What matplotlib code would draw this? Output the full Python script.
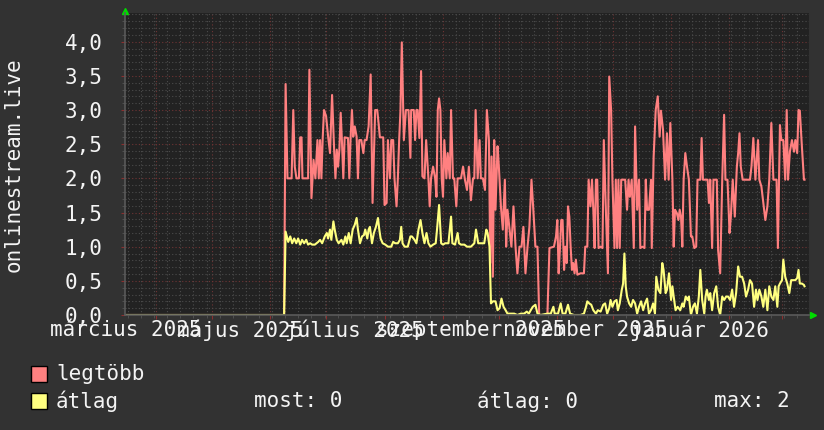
import numpy as np
import matplotlib
matplotlib.use("Agg")
import matplotlib.pyplot as plt
import matplotlib.dates as mdates
from matplotlib.ticker import MultipleLocator, FuncFormatter, NullFormatter
from matplotlib.patches import Rectangle
from matplotlib.transforms import blended_transform_factory

# time window of the graph (one year)
chart_start = np.datetime64('2025-03-15T12:00')
chart_end = np.datetime64('2026-03-15T12:00')
data_start = np.datetime64('2025-06-09T00:00')

# legtöbb (max) -- day offsets from data_start, values
max_days = [-85.5, -0.6, 0.2, 1.2, 3.4, 4.3, 5.1, 6.0, 7.3, 8.0, 8.7, 9.2, 12.2, 12.9, 14.0, 15.1, 16.1,
            17.2, 17.9, 18.6, 19.3, 20.0, 20.7, 21.8, 22.9, 23.9, 25.0, 26.1, 26.8, 27.5, 28.2, 28.9,
            29.6, 30.3, 31.0, 31.7, 33.5, 34.2, 34.9, 35.6, 36.3, 37.1, 38.1, 38.8, 39.5, 40.6, 41.7,
            42.4, 43.4, 44.5, 45.6, 46.6, 47.3, 48.0, 49.1, 49.8, 50.5, 52.3, 53.0, 54.1, 54.8, 55.9,
            56.6, 57.6, 58.3, 59.4, 60.1, 60.8, 61.5, 62.2, 63.3, 64.4, 65.8, 66.8, 67.2, 68.6, 69.3,
            70.0, 70.7, 71.6, 72.5, 73.2, 74.3, 75.2, 76.4, 77.1, 77.8, 78.9, 80.0, 80.7, 81.4, 82.1,
            82.8, 83.5, 84.2, 84.9, 86.0, 86.7, 87.8, 88.5, 89.5, 90.2, 91.3, 92.0, 93.8, 94.9, 95.9,
            97.0, 98.0, 99.1, 100.2, 100.9, 101.6, 102.7, 103.7, 104.4, 105.5, 106.6, 107.6, 108.7,
            109.4, 110.1, 110.8, 111.5, 112.2, 113.3, 114.0, 115.1, 116.1, 117.2, 117.9, 118.6, 119.7,
            120.7, 121.8, 122.9, 123.9, 125.0, 126.1, 127.1, 128.2, 129.3, 130.3, 131.4, 132.4, 133.5,
            134.6, 135.5, 139.9, 141.0, 143.4, 144.5, 145.2, 145.9, 146.6, 147.3, 148.0, 148.8, 149.5,
            150.2, 150.9, 151.6, 152.3, 153.0, 153.7, 154.4, 155.1, 155.9, 157.6, 159.4, 160.1, 161.2,
            161.9, 162.9, 163.7, 164.4, 165.1, 165.8, 166.5, 167.2, 168.3, 169.3, 170.0, 171.1, 172.2,
            172.9, 173.9, 174.6, 175.7, 176.4, 177.1, 177.8, 178.5, 179.3, 180.0, 181.4, 182.4, 183.2,
            183.9, 184.9, 186.0, 186.7, 187.8, 188.8, 189.5, 190.6, 191.7, 192.4, 193.1, 194.1, 195.2,
            195.6, 196.6, 197.7, 198.8, 199.8, 200.5, 201.6, 202.7, 203.7, 204.6, 205.5, 206.6, 207.3,
            208.0, 209.0, 209.8, 210.5, 211.2, 211.9, 212.6, 213.5, 214.4, 215.4, 216.5, 217.2, 218.3,
            219.3, 220.0, 221.5, 222.2, 222.9, 224.3, 225.4, 226.1, 226.8, 227.8, 228.5, 230.3, 231.0,
            232.1, 233.2, 234.2, 234.9, 236.0, 237.1, 237.8, 238.8, 239.9, 241.0, 241.7, 242.4, 243.1,
            244.1, 246.3, 248.0, 248.8, 249.8, 250.9, 252.3, 253.0, 254.1, 255.1, 256.2, 257.3, 258.3,
            259.4, 260.5, 262.2, 262.9, 264.0, 264.7, 265.8, 266.8, 267.6, 268.3, 269.3, 270.4, 271.5,
            272.2, 273.2, 273.9, 274.6, 275.7, 276.8, 277.1]
max_vals = [0.0, 0.0, 3.38, 2.0, 2.0, 3.0, 2.17, 2.0, 2.0, 2.6, 2.6, 2.0, 2.0, 3.59, 1.71, 2.27, 2.0,
            2.56, 2.0, 2.56, 2.0, 2.59, 3.0, 2.91, 2.61, 2.37, 3.22, 2.42, 2.0, 2.42, 2.17, 2.42,
            2.96, 2.52, 2.0, 2.6, 2.59, 2.0, 2.6, 3.0, 2.61, 2.76, 2.61, 2.0, 2.56, 2.56, 2.37,
            2.56, 2.56, 2.76, 3.52, 1.64, 2.32, 3.0, 3.0, 2.81, 2.6, 2.6, 1.61, 1.64, 2.56, 2.0,
            2.56, 2.56, 2.0, 1.59, 2.0, 2.56, 3.0, 3.99, 2.56, 3.0, 3.0, 2.3, 3.0, 3.0, 2.56,
            3.0, 3.0, 2.59, 3.57, 2.03, 2.0, 2.56, 2.0, 1.59, 2.0, 2.17, 2.0, 1.73, 3.0, 3.17,
            3.0, 2.0, 1.73, 2.56, 2.0, 2.37, 2.0, 3.0, 2.0, 2.0, 1.59, 2.0, 2.0, 2.17, 1.98,
            1.83, 2.17, 1.68, 2.0, 2.0, 3.0, 2.0, 2.56, 2.0, 2.0, 1.83, 3.0, 2.56,
            0.76, 2.32, 0.56, 2.56, 1.54, 2.47, 2.17, 1.59, 1.25, 1.98, 1.0, 1.54, 1.25,
            1.0, 1.59, 1.0, 0.61, 1.0, 1.0, 1.29, 0.61, 1.0, 1.29, 1.98, 1.54, 1.0,
            1.0, 0.0, 0.0, 0.98, 1.0, 1.15, 1.39, 0.61, 0.98, 1.39, 1.39, 0.66, 1.0,
            0.76, 1.59, 1.44, 1.0, 0.66, 0.76, 0.61, 0.81, 0.59, 0.61, 0.61, 1.0, 1.0,
            1.98, 1.59, 1.98, 1.54, 0.98, 1.98, 1.98, 0.98, 1.0, 0.98, 2.56, 1.54, 0.61,
            3.49, 3.0, 1.98, 0.98, 1.98, 0.98, 1.98, 0.98, 1.98, 1.98, 1.98, 1.54, 1.98,
            1.73, 1.98, 0.98, 2.76, 1.54, 1.98, 0.98, 1.0, 0.98, 1.98, 1.54, 1.54, 1.98,
            0.98, 2.32, 3.0, 3.2, 2.61, 2.99, 2.71, 1.98, 2.66, 1.98, 2.81, 1.98, 1.0,
            1.54, 1.49, 1.39, 1.54, 1.44, 1.0, 1.98, 2.37, 2.17, 1.98, 1.15, 1.15, 0.98,
            1.0, 1.98, 1.98, 2.59, 1.98, 1.98, 1.98, 1.64, 1.98, 0.98, 1.98, 1.98, 0.95,
            0.61, 1.98, 2.93, 1.98, 1.98, 1.2, 1.44, 1.98, 1.44, 2.17, 2.37, 2.66, 2.17,
            1.98, 1.98, 1.98, 2.17, 2.59, 1.98, 2.56, 1.98, 1.88, 1.64, 1.39, 1.59, 1.98,
            2.81, 1.98, 1.98, 0.98, 2.78, 2.56, 2.56, 1.98, 3.0, 1.98, 2.39, 2.56, 2.39,
            2.56, 2.37, 3.0, 2.99, 2.47, 1.98, 1.98]

# átlag (average)
avg_days = [-85.5, -0.6, 0.2, 1.6, 2.7, 3.7, 4.8, 5.9, 6.9, 8.0, 9.0, 10.1, 11.2, 12.2, 13.3, 14.4,
            15.8, 17.6, 18.6, 19.7, 21.1, 22.2, 22.9, 23.9, 24.6, 25.7, 26.4, 27.5, 28.5, 30.0, 31.0,
            32.1, 32.8, 33.9, 34.9, 36.0, 37.1, 38.1, 38.8, 39.9, 41.0, 42.0, 42.7, 43.8, 44.5, 45.2,
            46.3, 47.3, 48.4, 49.5, 50.2, 50.9, 52.0, 53.4, 54.8, 56.6, 57.6, 58.7, 60.1, 61.2, 61.9,
            62.6, 63.7, 65.4, 66.8, 67.6, 69.0, 70.0, 71.1, 72.2, 73.2, 74.3, 75.4, 76.4, 77.5, 78.9,
            80.3, 81.0, 82.1, 83.2, 84.2, 85.3, 87.1, 88.5, 89.2, 90.6, 92.0, 92.7, 93.8, 95.6, 97.0,
            99.1, 100.9, 101.8, 103.0, 104.4, 106.2, 107.3, 108.0, 109.0, 109.8, 110.8, 112.2, 113.3,
            114.4, 115.4, 116.5, 117.6, 118.6, 120.4, 122.2, 123.9, 125.7, 127.5, 128.9, 130.0, 131.0,
            132.1, 133.5, 134.6, 136.3, 139.9, 141.7, 143.1, 143.8, 145.6, 147.0, 148.0, 149.5, 150.9,
            152.0, 154.1, 157.6, 159.4, 160.5, 161.2, 162.2, 163.3, 164.4, 165.8, 166.8, 168.3, 169.7,
            170.7, 171.8, 172.9, 173.6, 174.6, 175.7, 176.8, 177.5, 178.5, 179.6, 180.3, 181.0, 181.7,
            182.4, 183.5, 184.6, 185.6, 186.7, 187.8, 188.8, 189.9, 191.0, 192.0, 193.1, 194.1, 195.2,
            196.3, 197.3, 198.0, 199.1, 200.2, 201.2, 201.9, 203.0, 203.7, 204.8, 205.9, 206.6, 207.3,
            208.3, 209.4, 210.8, 211.9, 212.6, 213.7, 214.7, 215.4, 216.5, 217.6, 218.6, 219.7, 220.7,
            221.5, 222.5, 223.6, 224.3, 225.0, 226.1, 226.8, 227.8, 228.9, 230.0, 231.0, 232.1, 233.2,
            234.2, 235.3, 236.3, 237.4, 238.5, 239.5, 240.6, 241.7, 242.7, 243.8, 244.9, 245.9, 247.0,
            248.0, 249.1, 250.2, 251.2, 252.0, 253.0, 254.1, 255.1, 256.2, 257.3, 258.3, 259.4, 260.5,
            261.5, 262.6, 263.3, 264.0, 265.1, 265.8, 266.8, 267.9, 269.0, 270.0, 271.1, 272.2, 273.2,
            273.9, 274.6, 275.7, 276.8, 277.1]
avg_vals = [0.0, 0.0, 1.22, 1.07, 1.15, 1.05, 1.12, 1.05, 1.12, 1.03, 1.10, 1.05, 1.10, 1.03, 1.05, 1.03,
            1.03, 1.07, 1.10, 1.05, 1.15, 1.20, 1.12, 1.25, 1.10, 1.37, 1.25, 1.10, 1.05, 1.10, 1.03,
            1.15, 1.05, 1.20, 1.05, 1.25, 1.32, 1.42, 1.25, 1.05, 1.15, 1.17, 1.25, 1.12, 1.25, 1.29,
            1.05, 1.20, 1.29, 1.42, 1.25, 1.12, 1.05, 1.03, 1.0, 1.0, 1.07, 1.05, 1.05, 1.10, 1.29,
            1.05, 1.0, 1.0, 1.15, 1.15, 1.10, 1.05, 1.25, 1.39, 1.20, 1.05, 1.20, 1.05, 1.0, 1.03,
            1.05, 1.25, 1.61, 1.05, 1.03, 1.05, 1.05, 1.44, 1.05, 1.03, 1.20, 1.05, 1.03, 1.03, 1.0,
            1.0, 1.05, 1.25, 1.05, 1.05, 1.05, 1.25, 1.20, 1.0, 0.17, 0.2, 0.2, 0.07,
            0.1, 0.24, 0.12, 0.07, 0.02, 0.02, 0.02, 0.0, 0.02, 0.02, 0.05, 0.02, 0.07,
            0.12, 0.15, 0.02, 0.0, 0.02, 0.02, 0.12, 0.02, 0.02, 0.17, 0.02, 0.02, 0.15,
            0.02, 0.0, 0.0, 0.02, 0.12, 0.2, 0.17, 0.15, 0.07, 0.02, 0.07, 0.05, 0.15,
            0.17, 0.02, 0.10, 0.22, 0.12, 0.2, 0.22, 0.07, 0.17, 0.37, 0.46, 0.9, 0.42,
            0.27, 0.17, 0.12, 0.22, 0.17, 0.02, 0.12, 0.2, 0.07, 0.17, 0.24, 0.02, 0.07,
            0.17, 0.02, 0.56, 0.37, 0.32, 0.76, 0.66, 0.32, 0.37, 0.61, 0.22, 0.42, 0.27,
            0.07, 0.12, 0.07, 0.17, 0.12, 0.27, 0.22, 0.27, 0.0, 0.12, 0.17, 0.02, 0.27,
            0.66, 0.22, 0.02, 0.27, 0.37, 0.22, 0.32, 0.07, 0.32, 0.42, 0.12, 0.0, 0.27,
            0.22, 0.27, 0.27, 0.22, 0.37, 0.12, 0.32, 0.71, 0.56, 0.56, 0.46, 0.27, 0.37,
            0.51, 0.46, 0.12, 0.37, 0.22, 0.37, 0.27, 0.12, 0.37, 0.07, 0.42, 0.27, 0.22,
            0.42, 0.12, 0.42, 0.46, 0.51, 0.81, 0.56, 0.46, 0.32, 0.51, 0.51, 0.51, 0.54,
            0.66, 0.46, 0.46, 0.44, 0.42]

# x labels (rrdtool puts month labels in the middle of the month)
label_texts = ['március 2025', 'május 2025', 'július 2025', 'szeptember 2025', 'november 2025', 'január 2026']
label_dates = ['2025-03-16', '2025-05-16', '2025-07-16', '2025-09-16', '2025-11-16', '2026-01-16']

legend_rows = [('legtöbb', '#ff8080'), ('átlag', '#ffff80')]
stats = ['most: 0', 'átlag: 0', 'max: 2']

BG = '#323232'
PLOT_BG = '#222222'
FONT = 'DejaVu Sans Mono'
TXT = '#f4f4f4'


def to_time(days):
    return data_start + (np.array(days) * 86400).astype('timedelta64[s]')


fig = plt.figure(figsize=(8.24, 4.30), dpi=100, facecolor=BG)
ax = fig.add_axes([125 / 824, 115 / 430, 684 / 824, 302 / 430])
ax.set_facecolor(PLOT_BG)

ax.plot(to_time(max_days), max_vals, color='#ff8080', lw=1.5, zorder=3)
ax.plot(to_time(avg_days), avg_vals, color='#ffff80', lw=1.5, zorder=4)

ax.set_xlim(chart_start, chart_end)
ax.set_ylim(0, 4.42)

ax.xaxis.set_major_locator(mdates.MonthLocator())
ax.xaxis.set_minor_locator(mdates.WeekdayLocator(byweekday=mdates.MO))
ax.xaxis.set_major_formatter(NullFormatter())
ax.yaxis.set_major_locator(MultipleLocator(0.5))
ax.yaxis.set_minor_locator(MultipleLocator(0.1))
ax.yaxis.set_major_formatter(FuncFormatter(lambda v, p: f'{v:.1f}'.replace('.', ',')))

ax.grid(which='minor', color='#4c4c4c', linestyle=(0, (1, 2)), linewidth=0.8)
ax.grid(which='major', color='#703434', linestyle=(0, (1, 2)), linewidth=0.8)
ax.set_axisbelow(True)

for s in ['top', 'right']:
    ax.spines[s].set_visible(False)
for s in ['left', 'bottom']:
    ax.spines[s].set_color('#5a5a5a')
    ax.spines[s].set_linewidth(1.2)
    ax.spines[s].set_zorder(5)

ax.tick_params(which='major', length=3, color='#8a3030', labelcolor=TXT, labelsize=15)
ax.tick_params(which='minor', length=2, color='#555555')
ax.tick_params(axis='y', which='major', pad=13)
for lab in ax.get_yticklabels():
    lab.set_fontfamily(FONT)

trans = blended_transform_factory(ax.transData, ax.transAxes)
for txt, d in zip(label_texts, label_dates):
    ax.text(np.datetime64(d), -0.05, txt, transform=trans, ha='center', va='center',
            fontsize=15, family=FONT, color=TXT, clip_on=False)

# green arrows at the axis ends
ax.plot([0], [1.008], marker='^', color='#00dd00', markersize=4, transform=ax.transAxes, clip_on=False)
ax.plot([1.006], [0], marker='>', color='#00dd00', markersize=4, transform=ax.transAxes, clip_on=False)

fig.text(14 / 824, 1 - 165 / 430, 'onlinestream.live', rotation=90, ha='center', va='center',
         fontsize=15, family=FONT, color=TXT)

# legend
row_y = [1 - 373.5 / 430, 1 - 401 / 430]
for (name, col), y in zip(legend_rows, row_y):
    fig.patches.append(Rectangle((31 / 824, y - 8 / 430), 16 / 824, 16 / 430, transform=fig.transFigure,
                                 facecolor=col, edgecolor='black', linewidth=1))
    fig.text(56 / 824, y, name, ha='left', va='center', fontsize=15, family=FONT, color=TXT)

for txt, x in zip(stats, [254, 477, 714]):
    fig.text(x / 824, row_y[1], txt, ha='left', va='center', fontsize=15, family=FONT, color=TXT)

fig.savefig('out.png', dpi=100, facecolor=BG)
